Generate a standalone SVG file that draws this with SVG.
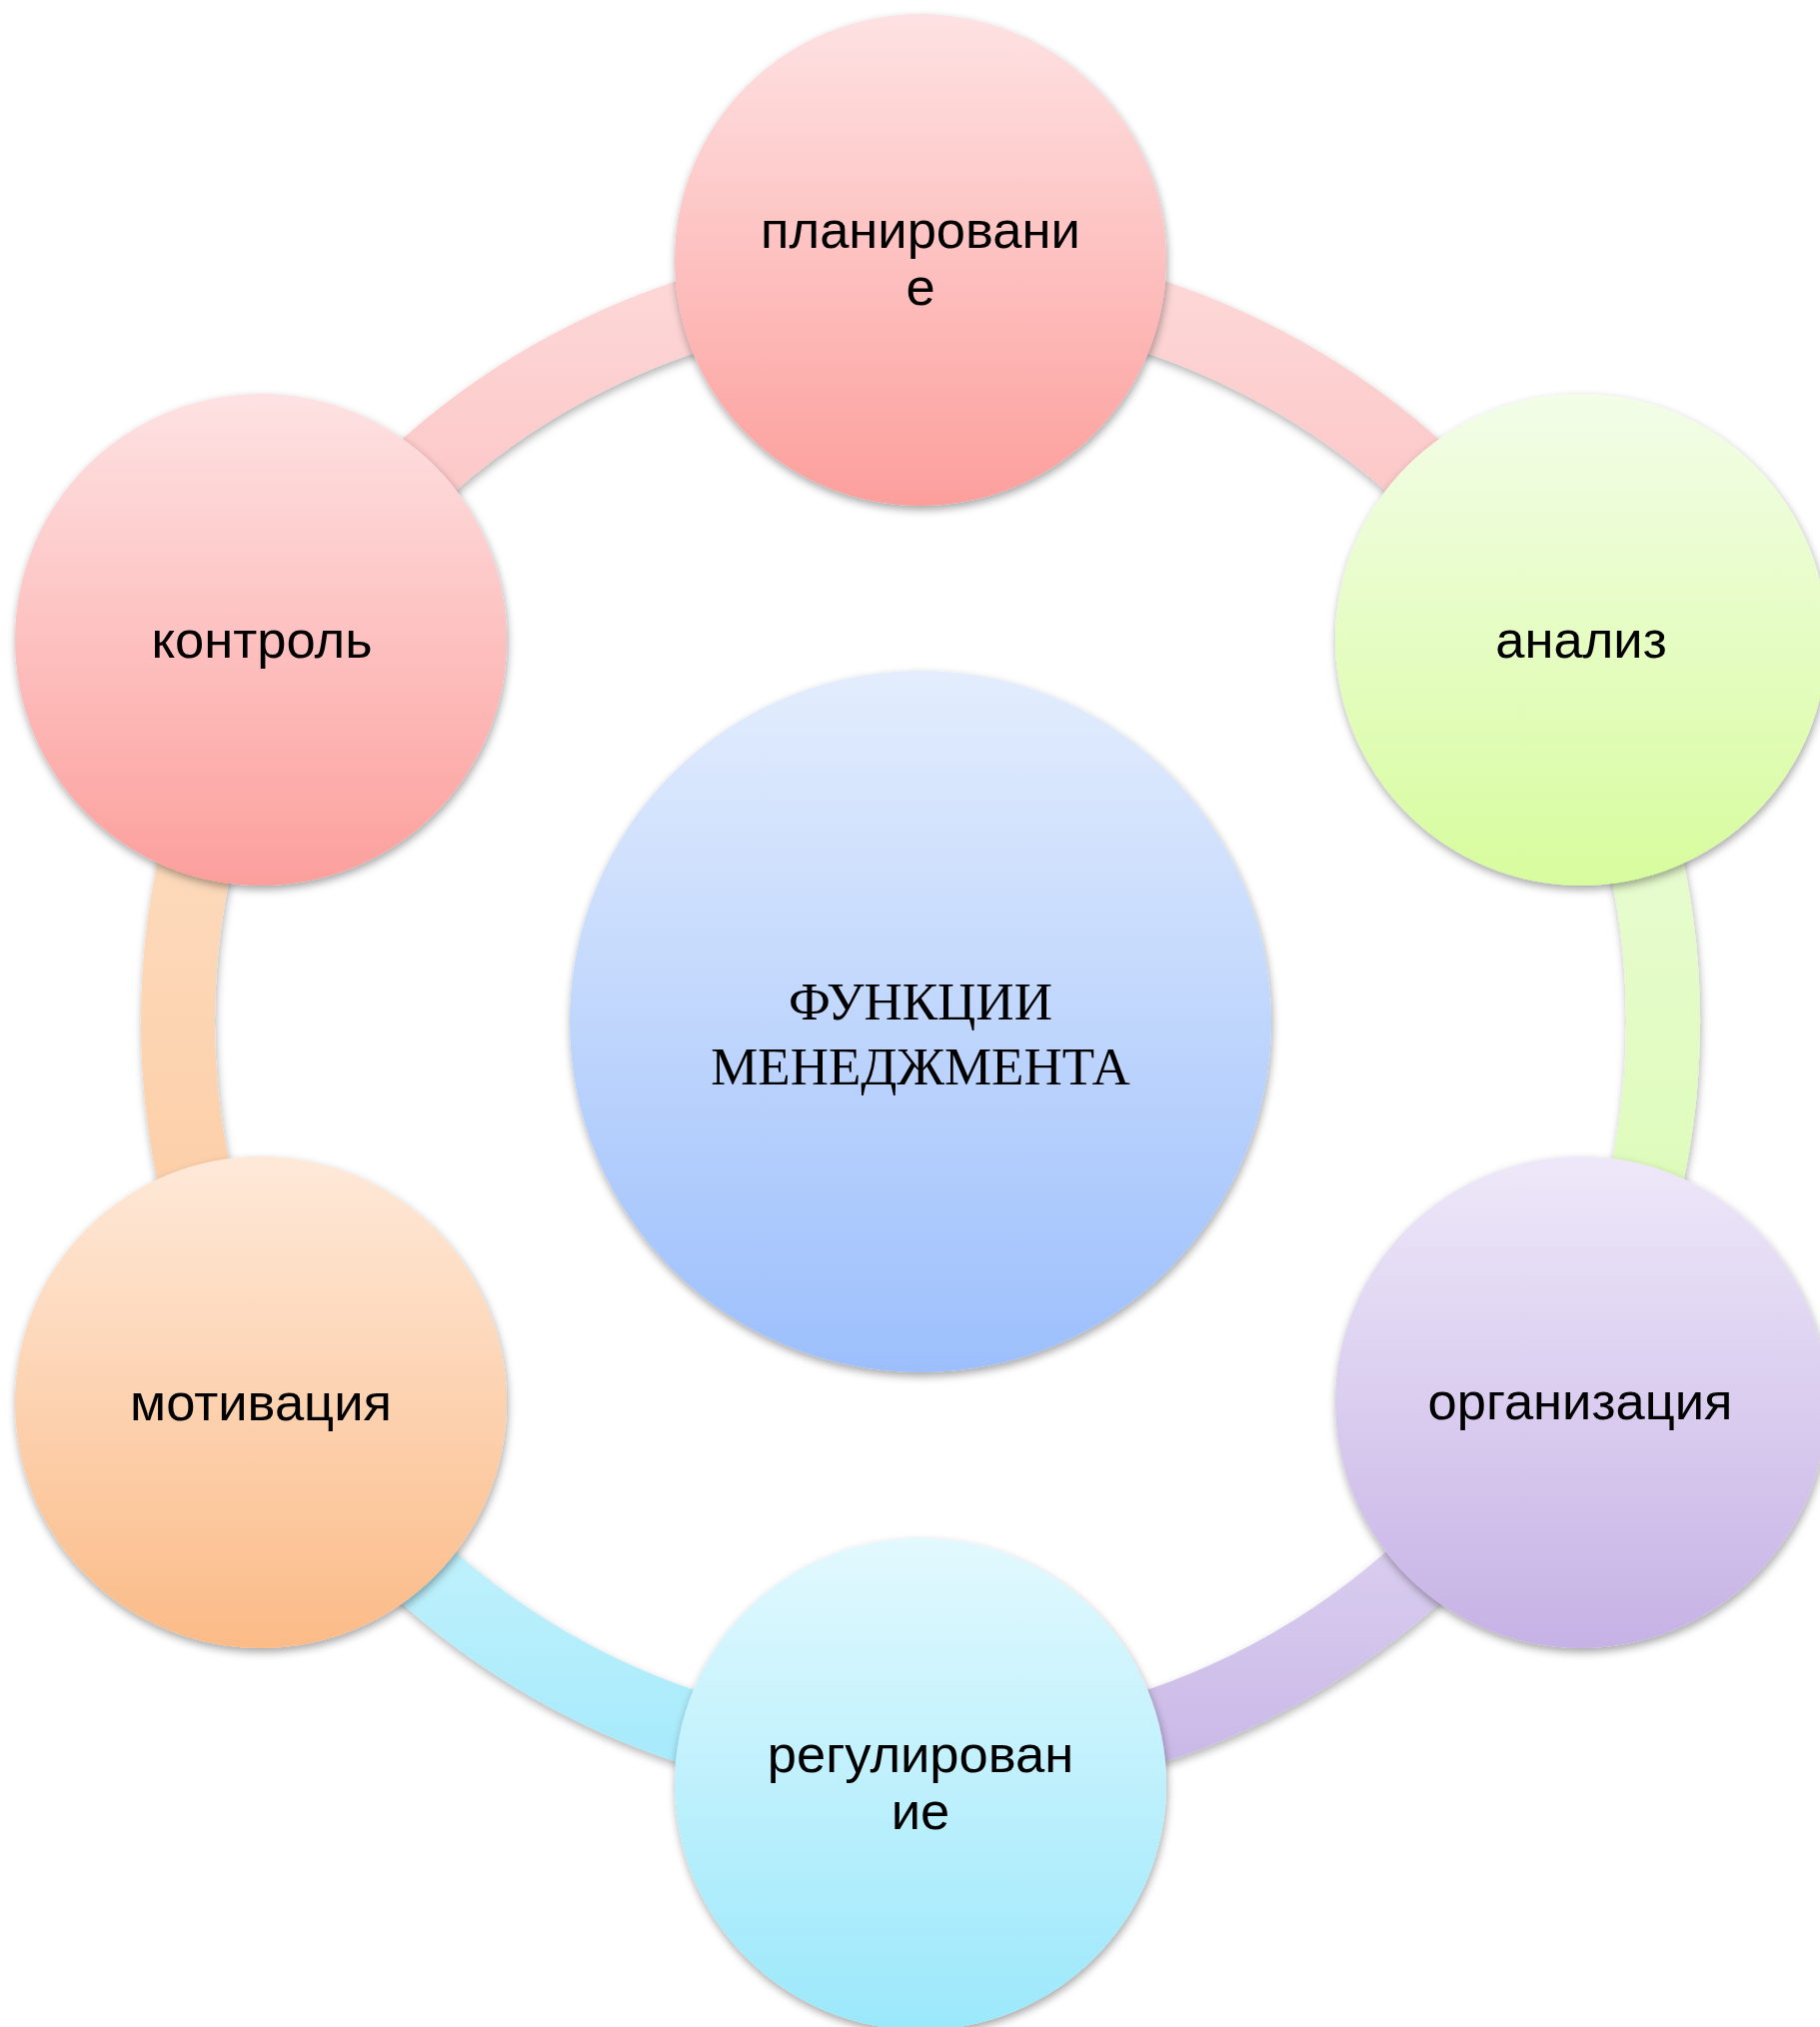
<svg xmlns="http://www.w3.org/2000/svg" width="1821" height="2028" viewBox="0 0 1821 2028">
  <style>
    .lbl { font-family: "Liberation Sans", Arial, sans-serif; font-size: 52.5px; fill: #000; text-anchor: middle; }
    .ctr { font-family: "Liberation Serif", "Times New Roman", serif; font-size: 53px; fill: #000; text-anchor: middle; }
    .band { fill: none; stroke-width: 74; filter: url(#shb); }
    .node { filter: url(#sh); }
  </style>
  <defs>
    <filter id="sh" x="-10%" y="-10%" width="120%" height="125%">
      <feDropShadow dx="1" dy="4" stdDeviation="4" flood-color="#000" flood-opacity="0.35"/>
    </filter>
    <filter id="shb" filterUnits="userSpaceOnUse" x="0" y="0" width="1821" height="2028">
      <feDropShadow dx="1" dy="4" stdDeviation="4" flood-color="#000" flood-opacity="0.3"/>
    </filter>
    <linearGradient id="gPink" x1="0" y1="0" x2="0" y2="1">
      <stop offset="0" stop-color="#fee2e3"/>
      <stop offset="1" stop-color="#fc9f9c"/>
    </linearGradient>
    <linearGradient id="gGreen" x1="0" y1="0" x2="0" y2="1">
      <stop offset="0" stop-color="#f3fde8"/>
      <stop offset="1" stop-color="#d7fc9d"/>
    </linearGradient>
    <linearGradient id="gPurple" x1="0" y1="0" x2="0" y2="1">
      <stop offset="0" stop-color="#eee8f9"/>
      <stop offset="1" stop-color="#c6b2e5"/>
    </linearGradient>
    <linearGradient id="gCyan" x1="0" y1="0" x2="0" y2="1">
      <stop offset="0" stop-color="#e2f9fe"/>
      <stop offset="1" stop-color="#9be8fb"/>
    </linearGradient>
    <linearGradient id="gPeach" x1="0" y1="0" x2="0" y2="1">
      <stop offset="0" stop-color="#fee9d9"/>
      <stop offset="1" stop-color="#fbbb87"/>
    </linearGradient>
    <linearGradient id="gBlue" x1="0" y1="0" x2="0" y2="1">
      <stop offset="0" stop-color="#e3edfd"/>
      <stop offset="1" stop-color="#9cbffc"/>
    </linearGradient>
    <linearGradient id="bPink" gradientUnits="userSpaceOnUse" x1="0" y1="240" x2="0" y2="690">
      <stop offset="0" stop-color="#fddada"/>
      <stop offset="1" stop-color="#fcbaba"/>
    </linearGradient>
    <linearGradient id="bGreen" gradientUnits="userSpaceOnUse" x1="0" y1="640" x2="0" y2="1400">
      <stop offset="0" stop-color="#ecfcdc"/>
      <stop offset="1" stop-color="#d9fbae"/>
    </linearGradient>
    <linearGradient id="bPurple" gradientUnits="userSpaceOnUse" x1="0" y1="1380" x2="0" y2="1800">
      <stop offset="0" stop-color="#e5ddf5"/>
      <stop offset="1" stop-color="#c7b5e6"/>
    </linearGradient>
    <linearGradient id="bCyan" gradientUnits="userSpaceOnUse" x1="0" y1="1380" x2="0" y2="1800">
      <stop offset="0" stop-color="#d3f6fd"/>
      <stop offset="1" stop-color="#a2e9fb"/>
    </linearGradient>
    <linearGradient id="bPeach" gradientUnits="userSpaceOnUse" x1="0" y1="640" x2="0" y2="1400">
      <stop offset="0" stop-color="#fde0c8"/>
      <stop offset="1" stop-color="#fcc99c"/>
    </linearGradient>
  </defs>
  <rect width="1821" height="2028" fill="#fff"/>

  <g id="connectors">
    <path class="band" stroke="url(#bPink)" d="M 921 279 A 743 743 0 0 1 1564.5 650.5"/>
    <path class="band" stroke="url(#bGreen)" d="M 1564.5 650.5 A 743 743 0 0 1 1564.5 1393.5"/>
    <path class="band" stroke="url(#bPurple)" d="M 1564.5 1393.5 A 743 743 0 0 1 921 1765"/>
    <path class="band" stroke="url(#bCyan)" d="M 921 1765 A 743 743 0 0 1 277.5 1393.5"/>
    <path class="band" stroke="url(#bPeach)" d="M 277.5 1393.5 A 743 743 0 0 1 277.5 650.5"/>
    <path class="band" stroke="url(#bPink)" d="M 277.5 650.5 A 743 743 0 0 1 921 279"/>
  </g>

  <g id="node-center">
    <circle class="node" cx="921" cy="1022" r="351" fill="url(#gBlue)"/>
    <text class="ctr" x="921" y="1020">ФУНКЦИИ</text>
    <text class="ctr" x="921" y="1085">МЕНЕДЖМЕНТА</text>
  </g>

  <g id="node-planirovanie">
    <circle class="node" cx="921" cy="260" r="246" fill="url(#gPink)"/>
    <text class="lbl" x="921" y="248">планировани</text>
    <text class="lbl" x="921" y="305">е</text>
  </g>

  <g id="node-analiz">
    <circle class="node" cx="1582" cy="640" r="246" fill="url(#gGreen)"/>
    <text class="lbl" x="1582" y="658">анализ</text>
  </g>

  <g id="node-organizacia">
    <circle class="node" cx="1582" cy="1403" r="246" fill="url(#gPurple)"/>
    <text class="lbl" x="1581" y="1420">организация</text>
  </g>

  <g id="node-regulirovanie">
    <circle class="node" cx="921" cy="1785" r="246" fill="url(#gCyan)"/>
    <text class="lbl" x="921" y="1773">регулирован</text>
    <text class="lbl" x="921" y="1830">ие</text>
  </g>

  <g id="node-motivacia">
    <circle class="node" cx="261" cy="1403" r="246" fill="url(#gPeach)"/>
    <text class="lbl" x="261" y="1421">мотивация</text>
  </g>

  <g id="node-kontrol">
    <circle class="node" cx="261" cy="640" r="246" fill="url(#gPink)"/>
    <text class="lbl" x="262" y="658">контроль</text>
  </g>
</svg>
